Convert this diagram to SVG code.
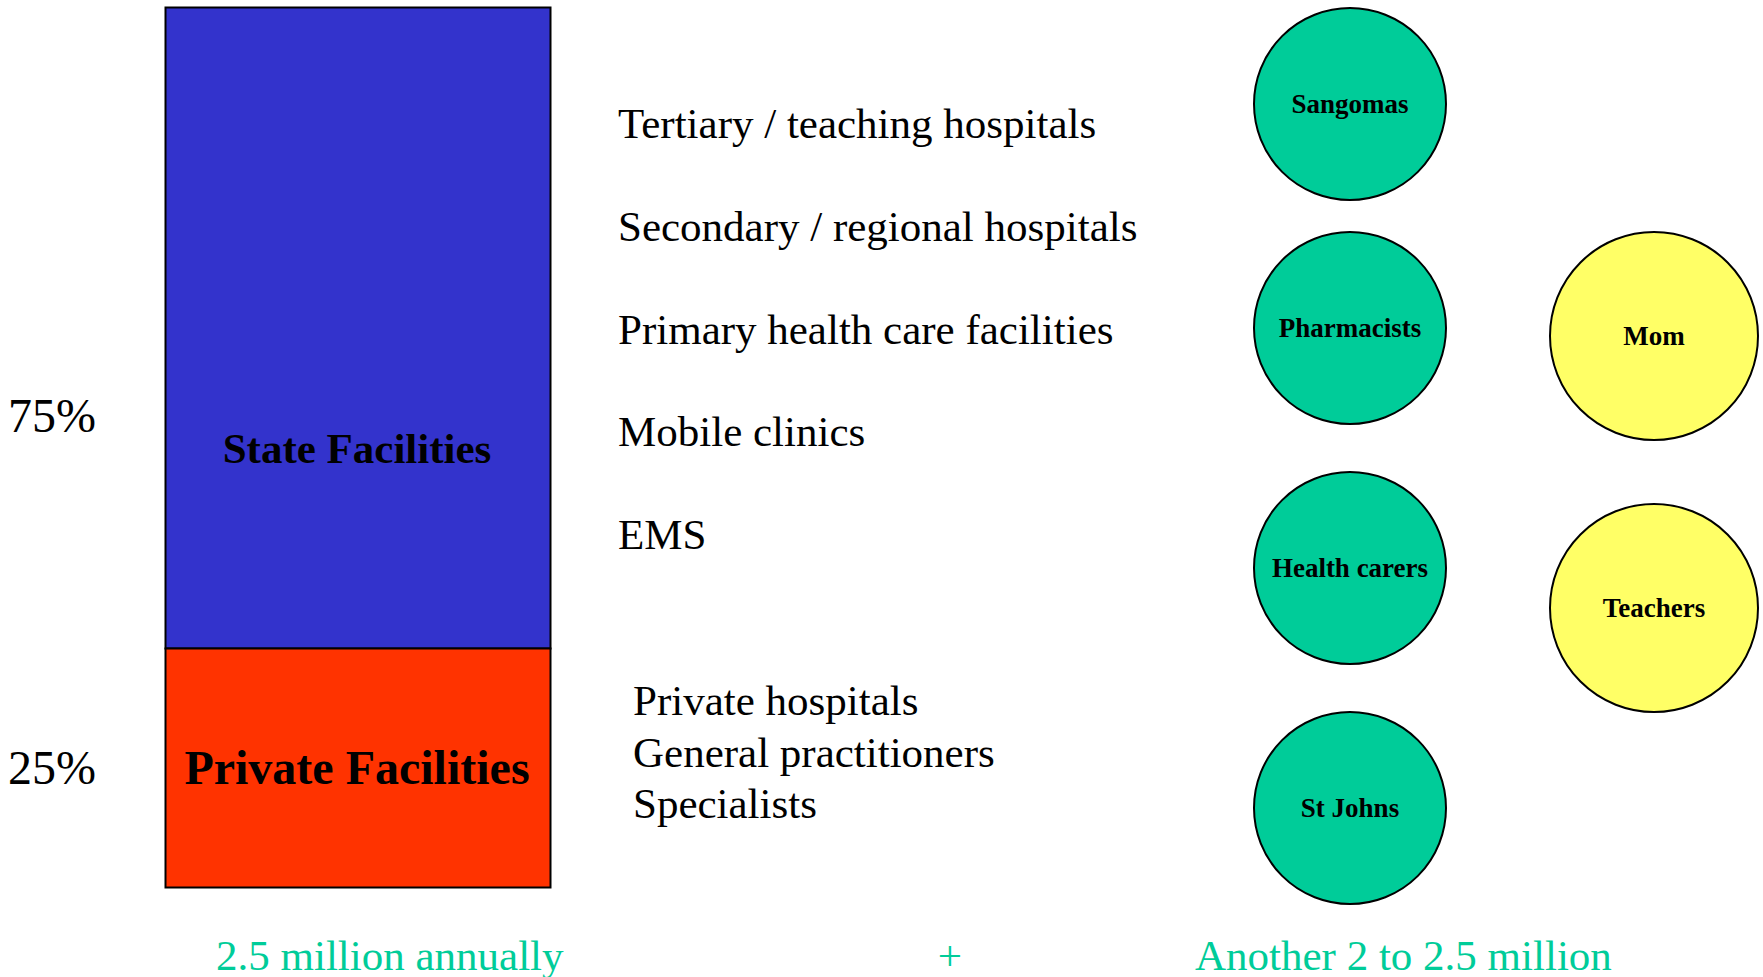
<svg xmlns="http://www.w3.org/2000/svg" width="1763" height="977" viewBox="0 0 1763 977">
<style>
text{font-family:"Liberation Serif","Times New Roman",serif;}
.pct{font-size:48px;fill:#000;}
.item{font-size:43px;fill:#000;}
.foot{font-size:43px;fill:#00CC99;}
.bar{stroke:#000;stroke-width:2;}
.lbl{font-weight:bold;text-anchor:middle;fill:#000;}
.green{fill:#00CC99;stroke:#000;stroke-width:2;}
.yellow{fill:#FFFF66;stroke:#000;stroke-width:2;}
.cl{font-size:27px;font-weight:bold;text-anchor:middle;fill:#000;}
</style>
<rect width="1763" height="977" fill="#fff"/>
<text class="pct" x="8" y="432">75%</text>
<text class="pct" x="8" y="784">25%</text>
<g id="state">
<rect class="bar" x="165.5" y="7.5" width="385" height="641" fill="#3333CC"/>
<text class="lbl" x="357" y="463" font-size="43">State Facilities</text>
</g>
<g id="private">
<rect class="bar" x="165.5" y="648.5" width="385" height="239" fill="#FF3300"/>
<text class="lbl" x="357" y="784" font-size="48">Private Facilities</text>
</g>
<g id="state-list">
<text class="item" x="618" y="138">Tertiary / teaching hospitals</text>
<text class="item" x="618" y="241">Secondary / regional hospitals</text>
<text class="item" x="618" y="344">Primary health care facilities</text>
<text class="item" x="618" y="446">Mobile clinics</text>
<text class="item" x="618" y="549">EMS</text>
</g>
<g id="private-list">
<text class="item" x="633" y="715">Private hospitals</text>
<text class="item" x="633" y="767">General practitioners</text>
<text class="item" x="633" y="818">Specialists</text>
</g>
<g id="sangomas"><circle class="green" cx="1350" cy="104" r="96"/><text class="cl" x="1350" y="113">Sangomas</text></g>
<g id="pharmacists"><circle class="green" cx="1350" cy="328" r="96"/><text class="cl" x="1350" y="337">Pharmacists</text></g>
<g id="health-carers"><circle class="green" cx="1350" cy="568" r="96"/><text class="cl" x="1350" y="577">Health carers</text></g>
<g id="st-johns"><circle class="green" cx="1350" cy="808" r="96"/><text class="cl" x="1350" y="817">St Johns</text></g>
<g id="mom"><circle class="yellow" cx="1654" cy="336" r="104"/><text class="cl" x="1654" y="345">Mom</text></g>
<g id="teachers"><circle class="yellow" cx="1654" cy="608" r="104"/><text class="cl" x="1654" y="617">Teachers</text></g>
<g id="connectors"></g>
<text class="foot" x="216" y="970">2.5 million annually</text>
<text class="foot" x="950" y="970" text-anchor="middle">+</text>
<text class="foot" x="1195" y="970">Another 2 to 2.5 million</text>
</svg>
